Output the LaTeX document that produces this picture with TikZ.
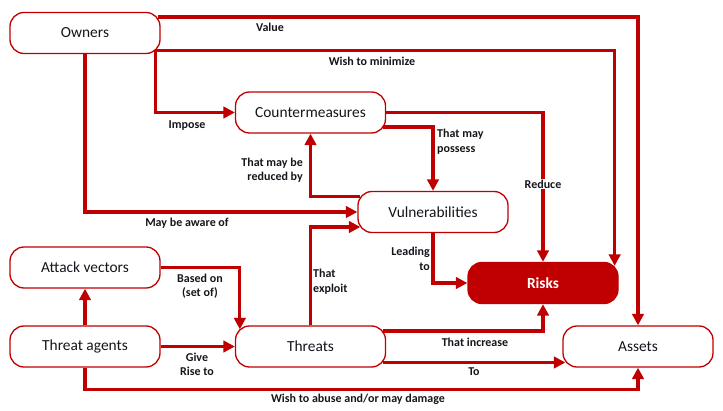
\documentclass[tikz,border=0pt]{standalone}
\usepackage{fontspec}
\setmainfont{Carlito}
\usetikzlibrary{arrows.meta}
\definecolor{dred}{HTML}{C00000}
\definecolor{txt}{HTML}{15151C}
\begin{document}
\begin{tikzpicture}[x=1pt,y=-1pt,
  box/.style={draw=dred, line width=1.3pt, rounded corners=14pt, minimum width=150pt, minimum height=41pt, fill=white, font=\fontsize{15.4}{18}\selectfont, text=txt, inner sep=0pt},
  riskbox/.style={box, fill=dred, text=white, font=\fontsize{15.4}{18}\selectfont\bfseries},
  conn/.style={draw=dred, line width=3.2pt, -{Triangle[length=11.5pt,width=11.5pt]}},
  lbl/.style={font=\fontsize{12}{14.5}\selectfont\bfseries, text=txt, inner sep=1pt}]
\useasboundingbox (0,0) rectangle (723,411);

% nodes
\node[box] (owners) at (85,33) {Owners};
\node[box] (cm) at (310.5,112.5) {Countermeasures};
\node[box] (vul) at (433,212) {Vulnerabilities};
\node[riskbox] (risks) at (543,283) {Risks};
\node[box] (assets) at (638,346.5) {Assets};
\node[box] (threats) at (310.5,346.5) {Threats};
\node[box] (agents) at (85,346.5) {Threat agents};
\node[box] (attack) at (85,267.5) {Attack vectors};

\coordinate (owc) at ([xshift=-5pt,yshift=4pt]owners.south east);

% connectors
\draw[conn] ([xshift=-3pt,yshift=16pt]owners.east) -| (assets.north);
\draw[conn] (owc) -| ([xshift=-4pt,yshift=-4pt]risks.north east);
\draw[conn] (owc) |- (cm.west);
\draw[conn] (owners.south) |- (vul.west);
\draw[conn] ([xshift=3pt,yshift=15.5pt]vul.west) -| (cm.south);
\draw[conn] ([xshift=-3pt,yshift=-14.5pt]cm.east) -| (vul.north);
\draw[conn] (cm.east) -| (risks.north);
\draw[conn] (vul.south) |- (risks.west);
\draw[conn] (threats.north) |- ([xshift=3pt,yshift=-15pt]vul.west);
\draw[conn] ([xshift=-3pt,yshift=15.5pt]threats.east) -| (risks.south);
\draw[conn] ([xshift=-3pt,yshift=-16pt]threats.east) -- ([xshift=3pt,yshift=-16pt]assets.west);
\draw[conn] (agents.east) -- (threats.west);
\draw[conn] (agents.north) -- (attack.south);
\draw[conn] (attack.east) -| ([xshift=5pt,yshift=-4pt]threats.north west);
\draw[conn] (agents.south) -- ++(0,21.5) -| (assets.south);

% labels
\node[lbl] (lvalue) at (270,27) {Value};
\node[lbl] (lwish) at (372,61) {Wish to minimize};
\node[lbl] (limpose) at (187,126) {Impose};
\node[lbl, align=right, anchor=east] (lreduced) at (304,170) {That may be\\reduced by};
\node[lbl, align=left, anchor=west] (lposs) at (436,141.5) {That may\\possess};
\node[lbl, fill=white] (lreduce) at (543,184) {Reduce};
\node[lbl] (laware) at (187,223) {May be aware of};
\node[lbl, align=right, anchor=east] (llead) at (431,259) {Leading\\to};
\node[lbl, align=left, anchor=west] (lexploit) at (312,281.5) {That\\exploit};
\node[lbl, align=center] (lbased) at (200,286) {Based on\\(set of)};
\node[lbl, align=center] (lgive) at (197,364.5) {Give\\Rise to};
\node[lbl] (lincr) at (475,342) {That increase};
\node[lbl] (lto) at (474,372) {To};
\node[lbl] (labuse) at (358,399) {Wish to abuse and/or may damage};
\end{tikzpicture}
\end{document}
